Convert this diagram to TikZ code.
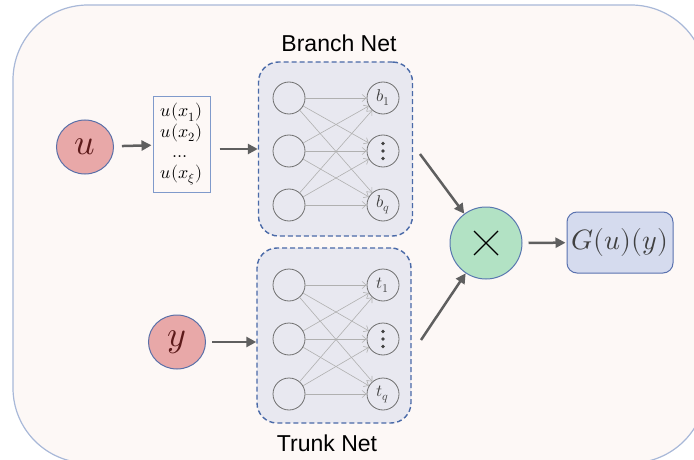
\documentclass[tikz,border=0pt]{standalone}
\usepackage{fontspec}
\usepackage{unicode-math}
\setmainfont{Liberation Sans}
\setmathfont{Latin Modern Math}
\usetikzlibrary{arrows.meta,shapes.geometric}

\definecolor{panelfill}{HTML}{FDF8F6}
\definecolor{paneledge}{HTML}{A8B8D8}
\definecolor{netfill}{HTML}{E8E8F0}
\definecolor{netedge}{HTML}{4A6AA8}
\definecolor{neurongray}{HTML}{707070}
\definecolor{wiregray}{HTML}{B0B0B0}
\definecolor{arrowgray}{HTML}{5F5F5F}
\definecolor{inputfill}{HTML}{E8A8A8}
\definecolor{inputedge}{HTML}{5A70A8}
\definecolor{inputtext}{HTML}{5C1A1A}
\definecolor{prodfill}{HTML}{B2E2C4}
\definecolor{prodedge}{HTML}{5A78B0}
\definecolor{outfill}{HTML}{D5DBEE}
\definecolor{outedge}{HTML}{5A72B0}
\definecolor{sampleedge}{HTML}{7F9ACB}
\definecolor{labelgray}{HTML}{404040}

\tikzset{
  netbox/.style={draw=netedge, dash pattern=on 5pt off 3pt, line width=1.4pt,
    fill=netfill, rounded corners=20pt, minimum width=154pt, minimum height=174pt},
  neuron/.style={circle, draw=neurongray, fill=netfill, line width=0.8pt,
    minimum size=32pt, inner sep=0pt, text=labelgray, font=\fontsize{17}{19}\selectfont},
  wire/.style={draw=wiregray, line width=0.6pt, -{Straight Barb[length=4pt,width=7pt]}},
  mainarrow/.style={draw=arrowgray, line width=2.5pt, -{Triangle[length=10pt,width=10pt]}},
  inputvar/.style={ellipse, draw=inputedge, fill=inputfill, line width=1pt,
    minimum width=57pt, minimum height=54pt, inner sep=0pt, text=inputtext,
    font=\fontsize{36}{40}\selectfont},
  netlabel/.style={font=\fontsize{23}{27}\selectfont, text=black},
  threedots/.style={fill=labelgray, draw=none, circle, inner sep=0pt, minimum size=3.8pt}
}

\begin{document}
\begin{tikzpicture}[x=1pt,y=-1pt]
\useasboundingbox (0,0) rectangle (694,460);
\clip (0,0) rectangle (694,460);

% outer panel
\draw[fill=panelfill, draw=paneledge, line width=1.2pt, rounded corners=75pt]
  (13,5) rectangle (706,463);

% the two sub-networks
\node[netbox] (branch) at (335.5,149) {};
\node[netbox, minimum height=175pt] (trunk) at (334,335.5) {};
\node[netlabel] (blabel) at (339,43) {Branch Net};
\node[netlabel] (tlabel) at (327,443) {Trunk Net};

% branch neurons
\node[neuron] (bl1) at (289,98) {};
\node[neuron] (bl2) at (289,151) {};
\node[neuron] (bl3) at (289,205) {};
\node[neuron] (br1) at (383,98) {$b_1$};
\node[neuron] (br2) at (383,151) {};
\node[neuron] (br3) at (383,205) {$b_q$};

% trunk neurons
\node[neuron] (tl1) at (289,285) {};
\node[neuron] (tl2) at (289,339) {};
\node[neuron] (tl3) at (289,394) {};
\node[neuron] (tr1) at (383,285) {$t_1$};
\node[neuron] (tr2) at (383,339) {};
\node[neuron] (tr3) at (383,394) {$t_q$};

% vertical ellipsis inside the middle output neurons
\foreach \n in {br2,tr2}{
  \node[threedots] (\n-a) at ([yshift=-7.5pt]\n.center) {};
  \node[threedots] (\n-b) at (\n.center) {};
  \node[threedots] (\n-c) at ([yshift=7.5pt]\n.center) {};
}

% fully connected wiring
\foreach \a in {1,2,3}{
  \foreach \b in {1,2,3}{
    \draw[wire] (bl\a) -- (br\b);
    \draw[wire] (tl\a) -- (tr\b);
  }
}

% inputs
\node[inputvar] (u) at (85,147) {$u$};
\node[inputvar] (y) at (177,342) {$y$};
\node[draw=sampleedge, fill=panelfill, line width=1pt, minimum width=57pt,
  minimum height=95pt, inner sep=0pt, align=center,
  font=\fontsize{18}{20.5}\selectfont] (samples) at (181.5,144.5)
  {$u(x_1)$\\$u(x_2)$\\$\dots$\\$u(x_\xi)$};

% product and output
\node[circle, draw=prodedge, fill=prodfill, line width=1pt, minimum size=72pt,
  inner sep=0pt,
  path picture={\draw[black, line width=1.3pt]
    ([shift={(-12pt,-12pt)}]path picture bounding box.center) -- ++(24pt,24pt)
    ([shift={(-12pt,12pt)}]path picture bounding box.center) -- ++(24pt,-24pt);}]
  (prod) at (486,243) {};
\node[draw=outedge, fill=outfill, line width=1pt, rounded corners=10pt,
  minimum width=106pt, minimum height=61pt, inner sep=0pt, text=labelgray,
  font=\fontsize{28}{32}\selectfont] (out) at (620,242.5) {$G(u)(y)$};

% main data flow
\coordinate (bout) at (420,154);
\coordinate (tout) at (421,340);
\draw[mainarrow, shorten <=8pt, shorten >=1pt] (u) -- (samples);
\draw[mainarrow, shorten <=9pt] (samples.east |- branch.west) -- (branch.west);
\draw[mainarrow, shorten <=6pt] (y.east) -- (y.east -| trunk.west);
\draw[mainarrow] (bout) -- (prod);
\draw[mainarrow] (tout) -- (prod);
\draw[mainarrow, shorten <=6pt, shorten >=1pt] (prod) -- (out);
\end{tikzpicture}
\end{document}
